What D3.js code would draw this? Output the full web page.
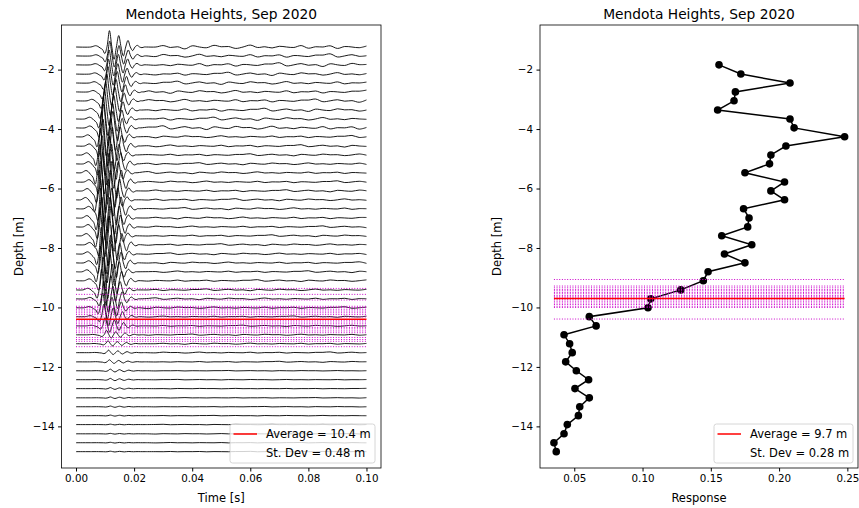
<!DOCTYPE html>
<html>
<head>
<meta charset="utf-8">
<script src="https://cdn.jsdelivr.net/npm/d3@7"></script>
<style>
  body { margin: 0; background: #fff; }
  text { font-family: "DejaVu Sans", sans-serif; }
</style>
</head>
<body>
<div id="chart"></div>
<script>
const width = 859;
const height = 508;

// trace baselines (m), top to bottom
const traceDepth = [-1.24, -1.54, -1.84, -2.15, -2.45, -2.75, -3.05, -3.36, -3.66, -3.96,
  -4.26, -4.57, -4.87, -5.17, -5.47, -5.78, -6.08, -6.38, -6.68, -6.99,
  -7.29, -7.59, -7.89, -8.20, -8.50, -8.80, -9.10, -9.41, -9.71, -10.01,
  -10.31, -10.62, -10.92, -11.22, -11.52, -11.83, -12.13, -12.43, -12.73, -13.04,
  -13.34, -13.64, -13.94, -14.25, -14.55, -14.85];
// time of main peak (s)
const tracePeak = [0.0115, 0.0116, 0.0114, 0.0112, 0.0110, 0.0106, 0.0102, 0.0098, 0.0094, 0.0095,
  0.0088, 0.0093, 0.0084, 0.0090, 0.0082, 0.0092, 0.0086, 0.0080, 0.0091, 0.0085,
  0.0089, 0.0083, 0.0094, 0.0087, 0.0091, 0.0085, 0.0093, 0.0088, 0.0095, 0.0092,
  0.0096, 0.0100, 0.0105, 0.0110, 0.0112, 0.0115, 0.0118, 0.0118, 0.0118, 0.0118,
  0.0118, 0.0118, 0.0118, 0.0118, 0.0118, 0.0118];
// wavelet amplitude (m)
const traceAmp = [0.55, 0.5, 0.5, 0.5, 0.55, 0.6, 0.65, 0.7, 0.75, 0.8,
  0.85, 0.9, 0.9, 0.95, 0.95, 1.0, 1.0, 1.0, 1.0, 1.0,
  1.0, 0.95, 0.95, 0.9, 0.9, 0.85, 0.8, 0.7, 0.6, 0.5,
  0.42, 0.28, 0.15, 0.1, 0.085, 0.07, 0.055, 0.045, 0.035, 0.03,
  0.025, 0.02, 0.015, 0.015, 0.015, 0.015];
// coda amplitude (m)
const traceCoda = [0.08, 0.07, 0.07, 0.06, 0.06, 0.06, 0.06, 0.06, 0.06, 0.07,
  0.045, 0.045, 0.04, 0.04, 0.04, 0.04, 0.04, 0.04, 0.04, 0.04,
  0.035, 0.035, 0.035, 0.035, 0.035, 0.035, 0.035, 0.035, 0.035, 0.035,
  0.025, 0.025, 0.025, 0.025, 0.025, 0.02, 0.01, 0.01, 0.01, 0.01,
  0.01, 0.01, 0.01, 0.01, 0.01, 0.01];
// shared pulse shape, one value every 0.8 ms starting 6.4 ms before the peak
const wavelet = [0, 0.04, 0.08, 0.04, -0.06, -0.15, -0.4, 0.05, 1.0, 0.05,
  -0.75, 0, 0.7, 0, -0.55, 0, 0.4, 0, -0.22, 0, 0.1, 0, -0.04, 0, 0];
// small late wiggles, one value every 2.5 ms from 0.02 s
const codaPattern = [0.4, 1.0, -0.5, 0.0, 0.6, -0.2, 0.1, -0.8, 0.5, 0.0, -0.3,
  0.7, 0.1, 0.2, -0.6, 0.0, 0.8, -0.2, 0.1, -0.4, 0.3, 0.0,
  -0.2, 0.6, -0.5, 0.1, 0.0, 0.5, -0.6, 0.2, 0.0, -0.3, 0.4];

// picks (left) and response picks (right)
const pickLeft = [-9.36, -9.56, -9.75, -9.96, -10.0, -10.06, -10.12, -10.18, -10.24, -10.32, -10.43,
  -10.49, -10.55, -10.61, -10.67, -10.72, -10.79, -10.85, -11.01, -11.08, -11.14, -11.32];
const pickRight = [-9.06, -9.28, -9.34, -9.40, -9.44, -9.50, -9.54, -9.60, -9.64, -9.68, -9.74,
  -9.79, -9.85, -9.90, -9.96, -10.0, -10.39];
const avgLeft = -10.4, avgRight = -9.7;
const legendLeft = ["Average = 10.4 m", "St. Dev = 0.48 m"];
const legendRight = ["Average = 9.7 m", "St. Dev = 0.28 m"];

const respDepth = [-1.84, -2.15, -2.45, -2.75, -3.05, -3.36, -3.66, -3.96, -4.26, -4.57,
  -4.87, -5.17, -5.47, -5.78, -6.08, -6.38, -6.68, -6.99, -7.29, -7.59,
  -7.89, -8.20, -8.50, -8.80, -9.10, -9.41, -9.71, -10.01, -10.31, -10.62,
  -10.92, -11.22, -11.52, -11.83, -12.13, -12.43, -12.73, -13.04, -13.34, -13.64,
  -13.94, -14.25, -14.55, -14.85];
const response = [0.156, 0.172, 0.208, 0.168, 0.167, 0.155, 0.208, 0.211, 0.248, 0.205,
  0.194, 0.193, 0.175, 0.204, 0.194, 0.204, 0.174, 0.178, 0.177, 0.158,
  0.180, 0.160, 0.175, 0.148, 0.1445, 0.128, 0.106, 0.104, 0.061, 0.066,
  0.0425, 0.0466, 0.0485, 0.0437, 0.0515, 0.0605, 0.0505, 0.061, 0.054, 0.053,
  0.0449, 0.0425, 0.0351, 0.0368];

const xTicksLeft = [0, 0.02, 0.04, 0.06, 0.08, 0.10];
const xTicksRight = [0.05, 0.10, 0.15, 0.20, 0.25];
const yTicks = [-2, -4, -6, -8, -10, -12, -14];

const svg = d3.select("#chart").append("svg")
  .attr("width", width).attr("height", height);

const plotTop = 25, plotBottom = 468;
const y = d3.scaleLinear().domain([-15.4, -0.5]).range([plotBottom, plotTop]);
const xL = d3.scaleLinear().domain([-0.005, 0.105]).range([61.5, 381]);
const xR = d3.scaleLinear().domain([0.0249, 0.2578]).range([540, 858]);

function frame(x, title, xlab, ticks, fmt) {
  const [x0, x1] = x.range();
  const cx = (x0 + x1) / 2;
  svg.append("g").attr("transform", `translate(0,${plotBottom})`)
    .call(d3.axisBottom(x).tickValues(ticks).tickFormat(fmt).tickSize(3.5).tickPadding(3.5))
    .call(g => g.select(".domain").remove())
    .call(g => g.selectAll("text").attr("font-size", 10.3).attr("fill", "#000").attr("font-family", "DejaVu Sans"));
  svg.append("g").attr("transform", `translate(${x0},0)`)
    .call(d3.axisLeft(y).tickValues(yTicks).tickFormat(d3.format("d")).tickSize(3.5).tickPadding(3.5))
    .call(g => g.select(".domain").remove())
    .call(g => g.selectAll("text").attr("font-size", 10.3).attr("fill", "#000").attr("font-family", "DejaVu Sans"));
  svg.append("rect").attr("x", x0).attr("y", plotTop).attr("width", x1 - x0).attr("height", plotBottom - plotTop)
    .attr("fill", "none").attr("stroke", "#000").attr("stroke-width", 0.8);
  svg.append("text").attr("x", cx).attr("y", 19).attr("text-anchor", "middle")
    .attr("font-size", 13.8).text(title);
  svg.append("text").attr("x", cx).attr("y", 501.5).attr("text-anchor", "middle")
    .attr("font-size", 11.5).text(xlab);
  svg.append("text").attr("transform", `translate(${x0 - 39},${(plotTop + plotBottom) / 2}) rotate(-90)`)
    .attr("text-anchor", "middle").attr("font-size", 11.5).text("Depth [m]");
}

function legend(x0, w, labels) {
  const g = svg.append("g").attr("transform", `translate(${x0},424)`);
  g.append("rect").attr("width", w).attr("height", 39).attr("rx", 2.5)
    .attr("fill", "#fff").attr("fill-opacity", 0.8).attr("stroke", "#cccccc").attr("stroke-width", 0.8);
  g.append("line").attr("x1", 3.5).attr("x2", 27).attr("y1", 10).attr("y2", 10)
    .attr("stroke", "red").attr("stroke-width", 1.5);
  labels.forEach((t, i) => {
    g.append("text").attr("x", 36).attr("y", 14 + i * 19).attr("font-size", 11.5).text(t);
  });
}

// ---- left: traces
const line = d3.line().x(d => xL(d[0])).y(d => y(d[1])).curve(d3.curveCatmullRom.alpha(0.5));
const traces = svg.append("g");
traceDepth.forEach((d, i) => {
  const pts = [[0, d]];
  const start = tracePeak[i] - 0.0064;
  wavelet.forEach((w, k) => {
    const t = start + k * 0.0008;
    if (t > 0.0008) pts.push([t, d + traceAmp[i] * w]);
  });
  const last = start + (wavelet.length - 1) * 0.0008;
  codaPattern.forEach((c, j) => {
    const t = 0.02 + j * 0.0025;
    if (t > last + 0.0015) pts.push([t, d + traceCoda[i] * codaPattern[(j + i * 7) % codaPattern.length]]);
  });
  traces.append("path").datum(pts).attr("d", line)
    .attr("fill", "none").attr("stroke", "#000").attr("stroke-width", 0.9);
});

svg.append("g").selectAll("line").data(pickLeft).join("line")
  .attr("x1", xL(0)).attr("x2", xL(0.1)).attr("y1", d => y(d)).attr("y2", d => y(d))
  .attr("stroke", "#cc00cc").attr("stroke-width", 1).attr("stroke-dasharray", "1,1.65");
svg.append("line").attr("x1", xL(0)).attr("x2", xL(0.1)).attr("y1", y(avgLeft)).attr("y2", y(avgLeft))
  .attr("stroke", "red").attr("stroke-width", 1.5);

frame(xL, "Mendota Heights, Sep 2020", "Time [s]", xTicksLeft, d3.format(".2f"));
legend(230, 145, legendLeft);

// ---- right: response
const rmin = d3.min(response), rmax = d3.max(response);
svg.append("path").datum(response)
  .attr("d", d3.line().x(d => xR(d)).y((d, i) => y(respDepth[i])))
  .attr("fill", "none").attr("stroke", "#000").attr("stroke-width", 1.5);
svg.append("g").selectAll("circle").data(response).join("circle")
  .attr("cx", d => xR(d)).attr("cy", (d, i) => y(respDepth[i])).attr("r", 3.8).attr("fill", "#000");

svg.append("g").selectAll("line").data(pickRight).join("line")
  .attr("x1", xR(rmin)).attr("x2", xR(rmax)).attr("y1", d => y(d)).attr("y2", d => y(d))
  .attr("stroke", "#cc00cc").attr("stroke-width", 1).attr("stroke-dasharray", "1,1.65");
svg.append("line").attr("x1", xR(rmin)).attr("x2", xR(rmax)).attr("y1", y(avgRight)).attr("y2", y(avgRight))
  .attr("stroke", "red").attr("stroke-width", 1.5);

frame(xR, "Mendota Heights, Sep 2020", "Response", xTicksRight, d3.format(".2f"));
legend(714, 139, legendRight);
</script>
</body>
</html>
